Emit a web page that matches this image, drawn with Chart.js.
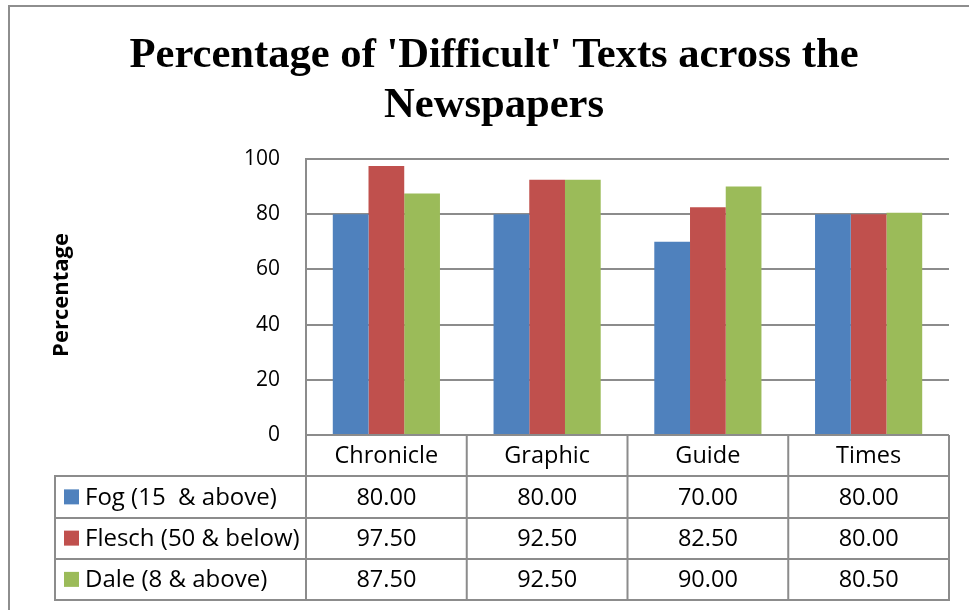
<!DOCTYPE html>
<html>
<head>
<meta charset="utf-8">
<script src="https://cdn.jsdelivr.net/npm/chart.js@4/dist/chart.umd.min.js"></script>
<style>
  html, body { margin:0; padding:0; background:#fff; overflow:hidden; }
  #wrap { width:969px; height:610px; }
  canvas { display:block; }
</style>
</head>
<body>
<div id="wrap"><canvas id="chart" width="969" height="610"></canvas></div>
<script>
const categories = ['Chronicle', 'Graphic', 'Guide', 'Times'];
const seriesNames = ['Fog (15  & above)', 'Flesch (50 & below)', 'Dale (8 & above)'];
const fogValues = [80.00, 80.00, 70.00, 80.00];
const fleschValues = [97.50, 92.50, 82.50, 80.00];
const daleValues = [87.50, 92.50, 90.00, 80.50];
const seriesColors = ['#4F81BD', '#C0504D', '#9BBB59'];
const titleLines = ["Percentage of 'Difficult' Texts across the", 'Newspapers'];
const yTitle = 'Percentage';

const LINE = '#8c8c8c';
const FONT = '"Open Sans", "Liberation Sans", sans-serif';

// table under the plot, columns follow the x scale
const dataTable = {
  id: 'dataTable',
  beforeDraw(chart) {
    const ctx = chart.ctx;
    ctx.save();
    ctx.fillStyle = '#fff';
    ctx.fillRect(0, 0, chart.width, chart.height);
    ctx.restore();
  },
  afterDraw(chart) {
    const ctx = chart.ctx;
    const xs = chart.scales.x;
    const area = chart.chartArea;
    const n = categories.length;
    const cw = (xs.right - xs.left) / n;
    const rowH = 41.25;
    const top = area.bottom;
    const legendLeft = 55;
    const rows = [fogValues, fleschValues, daleValues];
    const nRows = rows.length + 1; // header + one row per series
    const bottom = Math.round(top + rowH * nRows);

    ctx.save();
    ctx.strokeStyle = LINE;
    ctx.lineWidth = 2;

    // horizontal lines
    ctx.beginPath();
    ctx.moveTo(xs.left, top); ctx.lineTo(xs.right, top);
    for (let r = 1; r <= nRows; r++) {
      const y = r === nRows ? bottom : Math.round(top + rowH * r);
      ctx.moveTo(legendLeft - 1, y); ctx.lineTo(xs.right + 1, y);
    }
    // vertical lines
    ctx.moveTo(legendLeft, Math.round(top + rowH)); ctx.lineTo(legendLeft, bottom);
    for (let i = 0; i <= n; i++) {
      const x = i < n ? xs.getPixelForValue(i) - cw / 2 : xs.getPixelForValue(n - 1) + cw / 2;
      ctx.moveTo(x, top); ctx.lineTo(x, bottom);
    }
    ctx.stroke();

    // header and values
    ctx.fillStyle = '#000';
    ctx.font = '23.5px ' + FONT;
    ctx.textAlign = 'center';
    ctx.textBaseline = 'middle';
    categories.forEach((c, i) => {
      const x = xs.getPixelForValue(i);
      ctx.fillText(c, x, top + rowH / 2 + 1);
      rows.forEach((vals, r) => {
        ctx.fillText(vals[i].toFixed(2), x, top + rowH * (r + 1.5) + 1);
      });
    });

    // legend keys
    ctx.textAlign = 'left';
    ctx.font = '24px ' + FONT;
    seriesNames.forEach((name, r) => {
      const cy = top + rowH * (r + 1.5);
      ctx.fillStyle = seriesColors[r];
      ctx.fillRect(64, cy - 7.5, 15, 15);
      ctx.fillStyle = '#000';
      ctx.fillText(name, 85, cy + 1);
    });

    // title
    ctx.textAlign = 'center';
    ctx.textBaseline = 'alphabetic';
    ctx.font = 'bold 42.6px "Liberation Serif", "Times New Roman", serif';
    ctx.fillText(titleLines[0], 494, 67);
    ctx.fillText(titleLines[1], 494, 117);

    // y axis title
    ctx.save();
    ctx.translate(62, 295);
    ctx.rotate(-Math.PI / 2);
    ctx.textBaseline = 'middle';
    ctx.font = 'bold 22px ' + FONT;
    ctx.fillText(yTitle, 0, 0);
    ctx.restore();

    // outer frame
    ctx.strokeStyle = '#8e8e8e';
    ctx.lineWidth = 2;
    ctx.beginPath();
    ctx.moveTo(9, chart.height); ctx.lineTo(9, 6); ctx.lineTo(chart.width, 6);
    ctx.stroke();
    ctx.restore();
  }
};

new Chart(document.getElementById('chart').getContext('2d'), {
  type: 'bar',
  data: {
    labels: categories,
    datasets: [
      { label: seriesNames[0], data: fogValues, backgroundColor: seriesColors[0] },
      { label: seriesNames[1], data: fleschValues, backgroundColor: seriesColors[1] },
      { label: seriesNames[2], data: daleValues, backgroundColor: seriesColors[2] }
    ]
  },
  options: {
    responsive: false,
    animation: false,
    devicePixelRatio: 1,
    layout: { padding: { top: 159, right: 20, bottom: 175, left: 0 } },
    datasets: { bar: { barPercentage: 1, categoryPercentage: 3 / 4.5 } },
    plugins: { legend: { display: false }, tooltip: { enabled: false }, title: { display: false } },
    scales: {
      x: {
        grid: { display: false },
        border: { display: false },
        ticks: { display: false },
        afterFit: s => { s.height = 0; }
      },
      y: {
        min: 0, max: 100,
        ticks: { stepSize: 20, padding: 26, color: '#000', font: { family: FONT, size: 21 } },
        grid: { color: LINE, lineWidth: 2, drawTicks: false },
        border: { display: true, color: LINE, width: 2 },
        afterFit: s => { s.width = 306; }
      }
    }
  },
  plugins: [dataTable]
});
</script>
</body>
</html>
